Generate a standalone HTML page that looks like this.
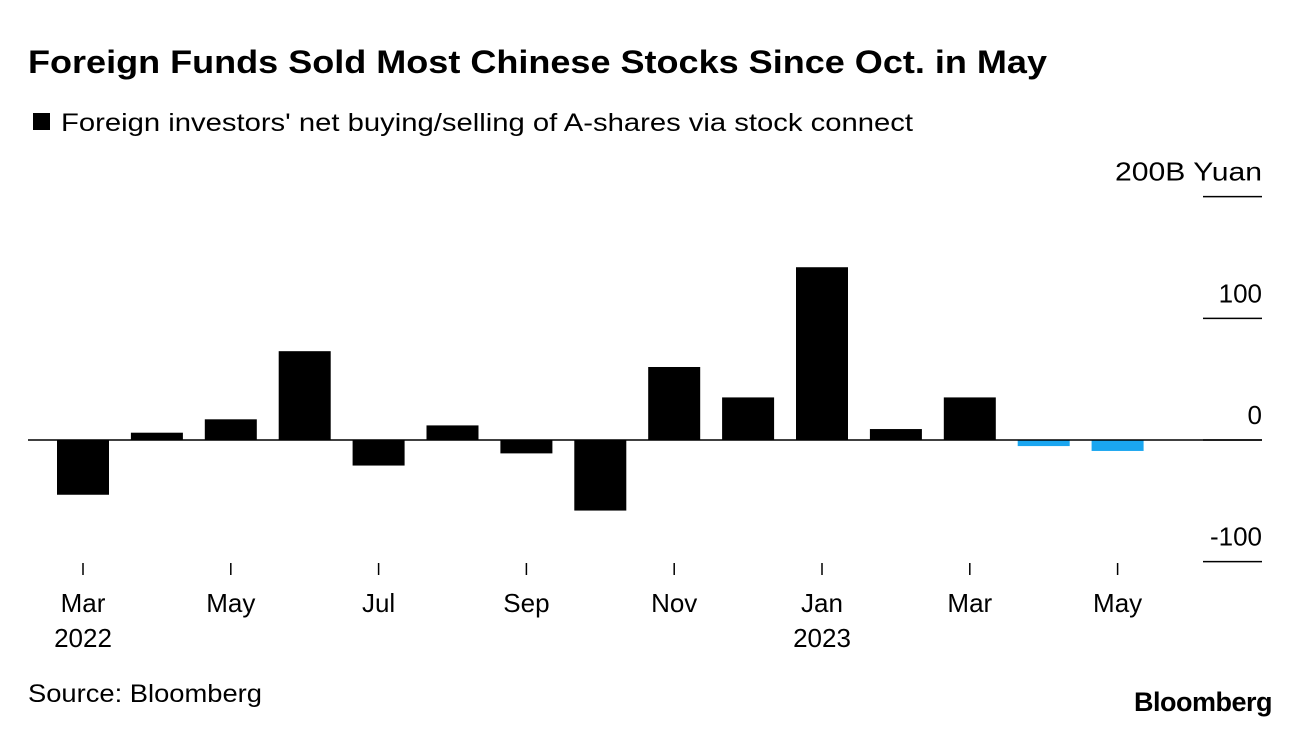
<!DOCTYPE html>
<html><head><meta charset="utf-8"><style>
body{margin:0;background:#fff;width:1296px;height:734px;overflow:hidden;font-family:"Liberation Sans",sans-serif;}
</style></head><body>
<svg width="1296" height="734">
<text x="28" y="73" font-size="32" font-weight="bold" fill="#000" textLength="1019" lengthAdjust="spacingAndGlyphs">Foreign Funds Sold Most Chinese Stocks Since Oct. in May</text>
<rect x="33" y="113" width="17" height="17" fill="#000"/>
<text x="61" y="131" font-size="25" fill="#000" textLength="852" lengthAdjust="spacingAndGlyphs">Foreign investors' net buying/selling of A-shares via stock connect</text>
<g id="yaxis"></g>
<g id="bars"></g>
<line x1="28" y1="440" x2="1262" y2="440" stroke="#000" stroke-width="1.5"/>
<g id="xaxis"></g>
<text x="28" y="702" font-size="25" fill="#000" textLength="234" lengthAdjust="spacingAndGlyphs">Source: Bloomberg</text>
<text x="1272" y="711" font-size="27" font-weight="bold" text-anchor="end" fill="#000" letter-spacing="-0.5">Bloomberg</text>
</svg>
<script>
const categories=["Mar22","Apr22","May22","Jun22","Jul22","Aug22","Sep22","Oct22","Nov22","Dec22","Jan23","Feb23","Mar23","Apr23","May23"];
const values=[-45,6,17,73,-21,12,-11,-58,60,35,142,9,35,-5,-9];
const highlighted=[false,false,false,false,false,false,false,false,false,false,false,false,false,true,true];
const yTicks=[200,100,0,-100];
const yTickLabels=["200B Yuan","100","0","-100"];
const xTickIdx=[0,2,4,6,8,10,12,14];
const xTickLabels=["Mar","May","Jul","Sep","Nov","Jan","Mar","May"];
const xYearLabels=["2022","","","","","2023","",""];
const NS="http://www.w3.org/2000/svg";
function y(v){return 440-v*1.2167;}
function x(i){return 83+i*73.9;}
function mk(t,a,p,txt){const e=document.createElementNS(NS,t);for(const k in a)e.setAttribute(k,a[k]);if(txt!==undefined)e.textContent=txt;p.appendChild(e);return e;}
const ya=document.getElementById('yaxis'),ba=document.getElementById('bars'),xa=document.getElementById('xaxis');
yTicks.forEach((v,i)=>{
 const l=mk('line',{x1:1203,x2:1262,y1:y(v),y2:y(v),stroke:'#000','stroke-width':1.5},ya);
 
 
 const a={x:1262,y:y(v)-16,'font-size':26,'text-anchor':'end',fill:'#000'};
 if(i===0){a.textLength=147;a.lengthAdjust='spacingAndGlyphs';}
 const t=mk('text',a,ya,yTickLabels[i]);
 
 
});
values.forEach((v,i)=>{
 const top=Math.min(y(v),y(0)),h=Math.abs(y(v)-y(0));
 const r=mk('rect',{x:x(i)-26,y:top,width:52,height:Math.max(h,1),fill:highlighted[i]?'#1aa6f0':'#000'},ba);
 
 
});
xTickIdx.forEach((idx,i)=>{
 const l=mk('line',{x1:x(idx),x2:x(idx),y1:563,y2:575,stroke:'#000','stroke-width':1.5},xa);
 
 
 const t=mk('text',{x:x(idx),y:612,'font-size':26,'text-anchor':'middle',fill:'#000'},xa,xTickLabels[i]);
 
 
 if(xYearLabels[i]){
  const t2=mk('text',{x:x(idx),y:647,'font-size':26,'text-anchor':'middle',fill:'#000'},xa,xYearLabels[i]);
  
  
 }
});
</script>
</body></html>
